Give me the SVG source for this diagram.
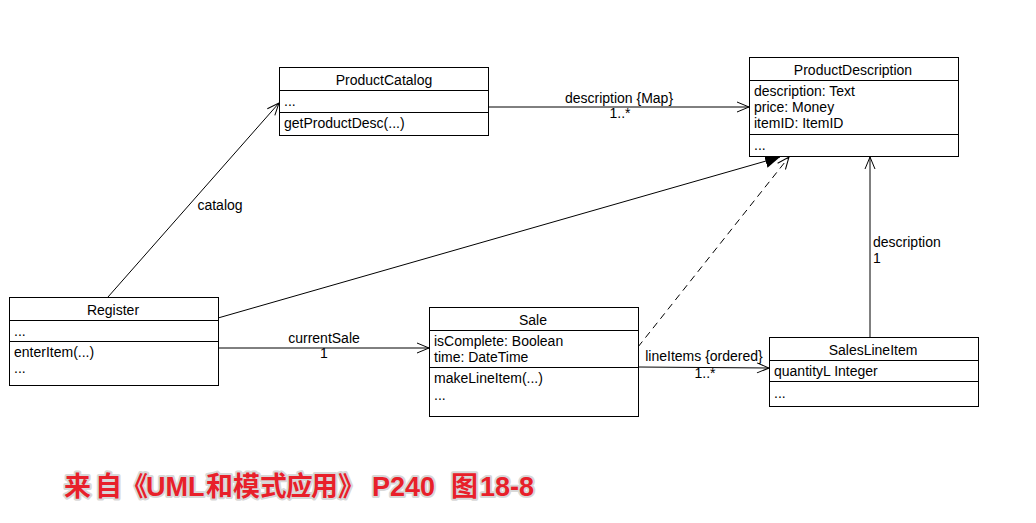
<svg xmlns="http://www.w3.org/2000/svg" width="1036" height="523" viewBox="0 0 1036 523">
<style>
.box{fill:#fff;stroke:#000;stroke-width:1}
.ln{stroke:#000;stroke-width:1;fill:none}
text{font-family:"Liberation Sans",Arial,sans-serif;font-size:14px;fill:#000}
.c{text-anchor:middle}
.dash{stroke-dasharray:7,5}
.title{font-family:"Liberation Sans","Noto Sans CJK SC",sans-serif;font-weight:bold;font-size:27px;fill:#e8202a;stroke:#d8d8d8;stroke-width:4;paint-order:stroke;stroke-linejoin:round}
</style>
<defs>
<marker id="open" viewBox="0 0 14 12" refX="13" refY="6" markerWidth="14" markerHeight="12" markerUnits="userSpaceOnUse" orient="auto">
<path d="M1,1 L13,6 L1,11" fill="none" stroke="#000" stroke-width="1"/>
</marker>
<marker id="filled" viewBox="0 0 16 14" refX="15" refY="7" markerWidth="16" markerHeight="14" markerUnits="userSpaceOnUse" orient="auto">
<path d="M0,0 L15,7 L0,14 Z" fill="#000"/>
</marker>
</defs>
<rect width="1036" height="523" fill="#fff"/>
<g id="connectors">
<line class="ln" x1="108" y1="297" x2="279" y2="103" marker-end="url(#open)"/>
<text x="220" y="210" class="c">catalog</text>
<line class="ln" x1="489" y1="107" x2="749" y2="107" marker-end="url(#open)"/>
<text x="619" y="103" class="c">description {Map}</text>
<text x="620" y="118" class="c">1..*</text>
<line class="ln" x1="218" y1="318" x2="780" y2="157" marker-end="url(#filled)"/>
<line class="ln dash" x1="638" y1="347" x2="789" y2="157" marker-end="url(#open)"/>
<line class="ln" x1="218" y1="348" x2="429" y2="348" marker-end="url(#open)"/>
<text x="324" y="343" class="c">currentSale</text>
<text x="324" y="358" class="c">1</text>
<line class="ln" x1="638" y1="367" x2="769" y2="368" marker-end="url(#open)"/>
<text x="704" y="361" class="c">lineItems {ordered}</text>
<text x="705" y="378" class="c">1..*</text>
<line class="ln" x1="870" y1="337" x2="870" y2="157" marker-end="url(#open)"/>
<text x="873" y="247">description</text>
<text x="873" y="263">1</text>
</g>
<g id="ProductCatalog">
<rect class="box" x="279.5" y="67.5" width="209" height="68"/>
<line class="ln" x1="279.5" y1="90.5" x2="488.5" y2="90.5"/>
<line class="ln" x1="279.5" y1="112.5" x2="488.5" y2="112.5"/>
<text x="384" y="85" class="c">ProductCatalog</text>
<text x="284" y="106">...</text>
<text x="284" y="128">getProductDesc(...)</text>
</g>
<g id="ProductDescription">
<rect class="box" x="749.5" y="57.5" width="209" height="99"/>
<line class="ln" x1="749.5" y1="80.5" x2="958.5" y2="80.5"/>
<line class="ln" x1="749.5" y1="134.5" x2="958.5" y2="134.5"/>
<text x="853" y="75" class="c">ProductDescription</text>
<text x="754" y="96">description: Text</text>
<text x="754" y="112">price: Money</text>
<text x="754" y="128">itemID: ItemID</text>
<text x="754" y="150">...</text>
</g>
<g id="Register">
<rect class="box" x="9.5" y="297.5" width="209" height="88"/>
<line class="ln" x1="9.5" y1="320.5" x2="218.5" y2="320.5"/>
<line class="ln" x1="9.5" y1="341.5" x2="218.5" y2="341.5"/>
<text x="113" y="315" class="c">Register</text>
<text x="14" y="336">...</text>
<text x="14" y="357">enterItem(...)</text>
<text x="14" y="373">...</text>
</g>
<g id="Sale">
<rect class="box" x="429.5" y="307.5" width="209" height="109"/>
<line class="ln" x1="429.5" y1="330.5" x2="638.5" y2="330.5"/>
<line class="ln" x1="429.5" y1="367.5" x2="638.5" y2="367.5"/>
<text x="533" y="325" class="c">Sale</text>
<text x="434" y="346">isComplete: Boolean</text>
<text x="434" y="362">time: DateTime</text>
<text x="434" y="383">makeLineItem(...)</text>
<text x="434" y="400">...</text>
</g>
<g id="SalesLineItem">
<rect class="box" x="769.5" y="337.5" width="209" height="69"/>
<line class="ln" x1="769.5" y1="360.5" x2="978.5" y2="360.5"/>
<line class="ln" x1="769.5" y1="381.5" x2="978.5" y2="381.5"/>
<text x="873" y="355" class="c">SalesLineItem</text>
<text x="774" y="376">quantityL Integer</text>
<text x="774" y="398">...</text>
</g>
<g id="caption">
<text y="496" class="title"><tspan x="64 95 121">来自《</tspan><tspan x="146">UML</tspan><tspan x="206 233 260 286 311 338">和模式应用》</tspan><tspan x="372">P240</tspan><tspan x="451">图</tspan><tspan x="480">18-8</tspan></text>
</g>
</svg>
